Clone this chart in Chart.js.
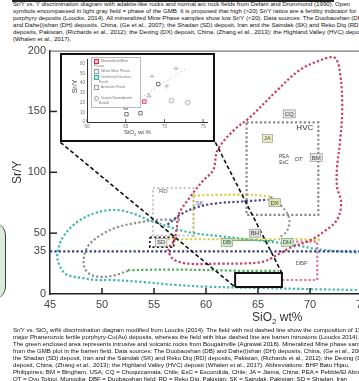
<!DOCTYPE html>
<html>
<head>
<meta charset="utf-8">
<script src="https://cdn.jsdelivr.net/npm/chart.js@4.4.1/dist/chart.umd.min.js"></script>
<style>
  html, body { margin:0; padding:0; background:#fff; width:359px; height:381px; overflow:hidden; position:relative;
               font-family:"Liberation Sans", Arial, sans-serif; }
  .cap { position:absolute; left:13px; white-space:nowrap; font-size:6.1px; line-height:7px; color:#111; }
  #main { position:absolute; left:0; top:40px; }
  #xTitle { position:absolute; left:252px; top:310px; font-size:12px; color:#333; white-space:nowrap; }
  #insetBox { position:absolute; left:60px; top:53px; width:151px; height:85px; border:2px solid #111; background:#fff; }
  #inset { position:absolute; left:0; top:0; }
  #insetY { position:absolute; left:6px; top:28px; font-size:7px; color:#444; transform:rotate(-90deg); transform-origin:center; }
  #insetX { position:absolute; left:62px; top:74px; font-size:6px; color:#444; white-space:nowrap; }
  #legend { position:absolute; left:29px; top:2px; width:44px; padding:1px 2px; border:1px solid #bbb; background:rgba(255,255,255,0.92);
            font-size:3.6px; line-height:5px; color:#777; }
  #legend span.m { display:inline-block; width:3px; height:3px; margin-right:2px; border:0.6px solid #999; vertical-align:middle; }
  #edge { position:absolute; left:-22px; top:222px; width:27px; height:78px; border-right:1.5px solid #2d4a36;
          border-radius:0 14px 14px 0; background:#dcebdc; }
  #topBar { position:absolute; left:12px; top:0; width:322px; height:1.5px; background:#222; }
</style>
</head>
<body>
<div id="edge"></div>
<div id="topBar"></div>
<div class="cap" style="top:0px">Sr/Y vs. Y discrimination diagram with adakite-like rocks and normal arc rock fields from Defant and Drummond (1990). Open</div>
<div class="cap" style="top:7px">symbols encompassed in light gray field = phase of the GMB. It is proposed that high (&gt;20) Sr/Y ratios are a fertility indicator for</div>
<div class="cap" style="top:14px">porphyry deposits (Loucks, 2014). All mineralized Mine Phase samples show low Sr/Y (&lt;20). Data sources: The Duobaoshan (DB)</div>
<div class="cap" style="top:21px">and Dahe(i)shan (DH) deposits, China, (Ge et al., 2007); the Shadan (SD) deposit, Iran and the Saindak (SK) and Reko Diq (RD)</div>
<div class="cap" style="top:28px">deposits, Pakistan, (Richards et al., 2012); the Dexing (DX) deposit, China, (Zhang et al., 2013); the Highland Valley (HVC) deposit</div>
<div class="cap" style="top:35px">(Whalen et al., 2017).</div>

<canvas id="main" width="420" height="272"></canvas>
<div id="xTitle">SiO<sub style="font-size:8px">2</sub> wt%</div>

<div id="insetBox">
  <canvas id="inset" width="151" height="85"></canvas>
  <div id="insetY">Sr/Y</div>
  <div id="insetX">SiO<sub style="font-size:4px">2</sub> wt.%</div>
  <div id="legend">
    <div><span class="m" style="border-color:#d03050;background:#f4c0c8"></span>Mineralized Mine Phase</div>
    <div><span class="m"></span>White Mine Phase</div>
    <div><span class="m" style="border-color:#30b0a0;background:#bfe8e0"></span>Unaltered Intrusive</div>
    <div><span class="m" style="border:none"></span>Fresh</div>
    <div><span class="m" style="border-radius:0"></span>Andesite Fresh</div>
    <div><span class="m" style="border:none"></span></div>
    <div><span class="m" style="border-radius:50%"></span>Diorite/Granodiorite</div>
    <div><span class="m" style="border:none"></span>Basalt</div>
  </div>
</div>

<div class="cap" style="top:326px">Sr/Y vs. SiO<sub style="font-size:4px">2</sub> wt% discrimination diagram modified from Loucks (2014). The field with red dashed line show the composition of 13</div>
<div class="cap" style="top:333px">major Phanerozoic fertile porphyry-Cu(Au) deposits, whereas the field with blue dashed line are barren intrusions (Loucks 2014).</div>
<div class="cap" style="top:340px">The green enclosed area represents intrusive and volcanic rocks from Bougainville (Agrawal 2018). Mineralized Mine phase samples</div>
<div class="cap" style="top:347px">from the GMB plot in the barren field. Data sources: The Duobaoshan (DB) and Dahe(i)shan (DH) deposits, China, (Ge et al., 2007</div>
<div class="cap" style="top:354px">the Shadan (SD) deposit, Iran and the Saindak (SK) and Reko Diq (RD) deposits, Pakistan, (Richards et al., 2012); the Dexing (D</div>
<div class="cap" style="top:361px">deposit, China, (Zhang et al., 2013); the Highland Valley (HVC) deposit (Whalen et al., 2017). Abbreviations: BHP Batu Hijau,</div>
<div class="cap" style="top:368px">Philippines; BM = Bingham, USA; CQ = Chuquicamata, Chile; EsC = Escondida, Chile; JA = Jiama, China; PEA = Pebble/El Abra</div>
<div class="cap" style="top:375px">OT = Oyu Tolgoi, Mongolia; DBF = Duobaoshan field; RD = Reko Diq, Pakistan; SK = Saindak, Pakistan; SD = Shadan, Iran</div>

<script>
// ---- axis ticks ----
const xTickValues = [45, 50, 55, 60, 65, 70, 75];
const yTickValues = [0, 35, 50, 100, 150, 200];
const xTickMarks = [50, 55, 60, 65, 70, 75];
const yTickMarks = [50, 100, 150];

// ---- field outlines, SiO2 wt% vs Sr/Y ----
const fertileField = [[57.0,44],[57.2,55],[57.4,66],[58.5,80],[59.7,93],[60.7,102],[61.1,118],[62.6,134],[64.2,145],
  [66.8,167],[69.0,184],[71.3,193],[72.4,194],[72.9,181],[73.1,153],[72.9,126],[72.6,104],[72.6,88],[73.0,75],
  [72.6,61],[71.3,51],[70.0,44],[68.1,38],[66.4,30],[65.5,26.5],[63.3,25],[61.6,25],[58.2,25],[56.8,29],[56.4,37],[57.0,44]];
const barrenLine = [[45,35],[80,35]];
const skArc = [[56.3,57],[57.5,65],[59,71],[61,74.5],[63.5,76],[66,77.5]];
const bougainvilleField = [[80,32.5],[74.8,34],[71,36.5],[68,41],[64.5,44.5],[61.3,47.5],[58.5,50.5],[56.5,55],
  [54.6,60.5],[53,66],[51.4,69],[49.5,67],[47.6,59],[46.2,46],[45.7,32],[46.0,22],[46.6,16],[48.2,13],[49.5,11.5],
  [51,11.5],[53.7,10],[57,7.5],[60,6],[65,5],[70,4],[80,2.5]];
const innerArcField = [[57.5,61],[55.5,61],[53.7,59],[51.5,55],[50.0,49],[48.8,41],[48.3,32],[48.3,22],[48.9,16],
  [50.0,14],[51.3,15.5],[52.5,19]];
const mineLine = [[52.5,19.5],[55,20],[58,20],[61,19.5],[63.5,19],[67,19]];
const hvcBox = [[63.9,141],[70.8,141],[70.8,65],[63.9,65],[63.9,141]];
const dxTop = [[58.8,81],[62,81.5],[64.5,81.5],[66.2,80]];
const dxSide = [[58.8,81],[58.8,46]];
const dxCurve = [[66.2,80],[67.4,71],[68,62],[67.8,52],[67,46]];
const dbLine = [[55.5,45],[58,45],[61.3,45],[64,45],[66.5,45],[69,45],[71,44.5]];
const dhLine = [[62,44],[66.5,44]];
const dbfBox = [[67.4,43],[70.7,43],[70.7,11.5],[67.4,11.5]];
const rdBox = [[54.9,87],[58.8,87],[58.8,48],[54.9,48],[54.9,87]];
const sdBox = [[54.6,46.5],[56.9,46.5],[56.9,38.5],[54.6,38.5],[54.6,46.5]];
const zoomBox = [[62.8,5.7],[67.3,5.7],[67.3,17.2],[62.8,17.2],[62.8,5.7]];
const zoomLeft = [[46.0,124.6],[62.8,5.7]];
const zoomRight = [[60.9,124.6],[67.3,17.2]];

// ---- deposit labels ----
const labelText = ['HVC','CQ','JA','PEA','EsC','OT','BM','SK','DX','RD','SD','DB','BH','DH','DBF'];
const labelX    = [69.5, 68.0, 65.9, 67.5, 67.5, 68.9, 70.6, 59.4, 66.6, 55.9, 55.7, 62.0, 64.7, 67.8, 69.2];
const labelY    = [137, 148, 128, 113, 108.5, 111, 112, 75, 75, 85, 42.5, 42.5, 50, 42.5, 26];
const labelLook = {
  HVC:{c:'#333', bg:null, s:8}, CQ:{c:'#444', bg:'#e6e6e6', s:6}, JA:{c:'#555', bg:'#eeeec0', s:6},
  PEA:{c:'#444', bg:null, s:5}, EsC:{c:'#444', bg:null, s:5}, OT:{c:'#444', bg:null, s:6},
  BM:{c:'#444', bg:'#e6e6e6', s:6}, SK:{c:'#6a4aa0', bg:null, s:6}, DX:{c:'#444', bg:'#e2e6b0', s:6},
  RD:{c:'#666', bg:null, s:6}, SD:{c:'#333', bg:'#eeeeee', s:6}, DB:{c:'#355', bg:'#cfe8c0', s:6},
  BH:{c:'#444', bg:'#dddddd', s:6}, DH:{c:'#355', bg:'#cfe8c0', s:6}, DBF:{c:'#555', bg:null, s:6}
};

// ---- inset samples ----
const insetSquares   = [[62.5,21],[65,15],[65.1,8],[66.9,9],[69.2,39]];
const insetRed       = [[67.4,21],[65.3,17]];
const insetTeal      = [[66.5,19]];
const insetTriangles = [[68,27]];
const insetCircles   = [[70.9,22],[73,20]];
const insetPlus      = [[68.4,47],[70.3,37],[71.5,55]];
const insetTrend     = [[66,20],[73,56]];
const insetXTicks = [60, 65, 70, 75];
const insetYTicks = [0, 10, 20, 30, 40, 50, 60];

const family = '"Liberation Sans", Arial, sans-serif';
const pts = a => a.map(([x, y]) => ({x, y}));
function path(data, color, opts = {}) {
  return Object.assign({
    data: pts(data), showLine: true, borderColor: color, backgroundColor: color,
    borderWidth: 2.2, borderDash: [2.2, 2.2], pointRadius: 0, tension: 0.35, fill: false
  }, opts);
}

const frameTicks = {
  id: 'frameTicks',
  afterDraw(chart) {
    const {ctx, chartArea: a, scales: {x, y}} = chart;
    ctx.save();
    ctx.strokeStyle = '#555'; ctx.lineWidth = 1;
    ctx.beginPath(); ctx.moveTo(a.left, a.top + 0.5); ctx.lineTo(a.right, a.top + 0.5); ctx.stroke();
    ctx.strokeStyle = '#222'; ctx.lineWidth = 1.5;
    xTickMarks.forEach(v => {
      const px = x.getPixelForValue(v);
      ctx.beginPath(); ctx.moveTo(px, a.bottom); ctx.lineTo(px, a.bottom - 6); ctx.stroke();
    });
    yTickMarks.forEach(v => {
      const py = y.getPixelForValue(v);
      ctx.beginPath(); ctx.moveTo(a.left, py); ctx.lineTo(a.left + 7, py); ctx.stroke();
    });
    ctx.restore();
  }
};

const fieldLabels = {
  id: 'fieldLabels',
  afterDatasetsDraw(chart) {
    const {ctx, scales: {x, y}} = chart;
    ctx.save();
    ctx.textAlign = 'center'; ctx.textBaseline = 'middle';
    labelText.forEach((t, i) => {
      const look = labelLook[t];
      const px = x.getPixelForValue(labelX[i]), py = y.getPixelForValue(labelY[i]);
      ctx.font = look.s + 'px ' + family;
      const w = ctx.measureText(t).width;
      if (look.bg) {
        ctx.fillStyle = look.bg; ctx.strokeStyle = '#888'; ctx.lineWidth = 0.6;
        ctx.fillRect(px - w / 2 - 1.5, py - look.s / 2 - 1, w + 3, look.s + 2);
        ctx.strokeRect(px - w / 2 - 1.5, py - look.s / 2 - 1, w + 3, look.s + 2);
      }
      ctx.fillStyle = look.c;
      ctx.fillText(t, px, py + 0.5);
    });
    ctx.restore();
  }
};

new Chart(document.getElementById('main'), {
  type: 'scatter',
  data: {
    datasets: [
      path(zoomBox, '#111', {borderDash: [], borderWidth: 2, tension: 0}),
      path(zoomLeft, '#111', {borderDash: [4, 2.5], borderWidth: 1.6, tension: 0}),
      path(zoomRight, '#111', {borderDash: [4, 2.5], borderWidth: 1.6, tension: 0}),
      path(fertileField, '#c83c5c'),
      path(barrenLine, '#3a3f7c', {tension: 0}),
      path(skArc, '#4a4690'),
      path(bougainvilleField, '#3fb8a6'),
      path(innerArcField, '#8e8e8e'),
      path(mineLine, '#4caf50', {tension: 0}),
      path(hvcBox, '#8a8a8a', {tension: 0}),
      path(dxTop, '#d8cf45', {tension: 0.3}),
      path(dxSide, '#c9c37a', {tension: 0}),
      path(dxCurve, '#9a9a9a'),
      path(dbLine, '#d9cf3c', {tension: 0}),
      path(dhLine, '#5fb060', {borderDash: [], borderWidth: 1, tension: 0}),
      path(dbfBox, '#e070a0', {tension: 0}),
      path(rdBox, '#b8b8b8', {borderWidth: 1.5, tension: 0}),
      path(sdBox, '#222', {borderWidth: 1.8, tension: 0})
    ]
  },
  options: {
    responsive: false, animation: false, devicePixelRatio: 1,
    layout: {padding: {top: 8, right: 6, left: 0, bottom: 0}},
    plugins: {legend: {display: false}, tooltip: {enabled: false}},
    scales: {
      x: {
        type: 'linear', min: 45, max: 80,
        afterBuildTicks: s => { s.ticks = xTickValues.map(v => ({value: v})); },
        afterFit: s => { s.height = 18; },
        grid: {display: true, drawOnChartArea: false, drawTicks: false},
        border: {display: true, color: '#222', width: 1.5},
        ticks: {padding: 4, color: '#444', font: {size: 11, family}}
      },
      y: {
        type: 'linear', min: 0, max: 200,
        afterBuildTicks: s => { s.ticks = yTickValues.map(v => ({value: v})); },
        afterFit: s => { s.width = 50; },
        grid: {display: true, drawOnChartArea: false, drawTicks: false},
        border: {display: true, color: '#222', width: 1.5},
        ticks: {padding: 4, color: '#444', font: {size: 11, family}},
        title: {display: true, text: 'Sr/Y', color: '#333', font: {size: 12, family}, padding: {top: 10, bottom: 0}}
      }
    }
  },
  plugins: [frameTicks, fieldLabels]
});

// ---- inset scatter ----
const insetTicks = {
  id: 'insetTicks',
  afterDraw(chart) {
    const {ctx, chartArea: a, scales: {x}} = chart;
    ctx.save(); ctx.strokeStyle = '#333'; ctx.lineWidth = 0.8;
    insetXTicks.forEach(v => {
      const px = x.getPixelForValue(v);
      ctx.beginPath(); ctx.moveTo(px, a.bottom); ctx.lineTo(px, a.bottom - 3); ctx.stroke();
    });
    ctx.restore();
  }
};
const sym = (data, style, color, fill, r) => ({
  data: pts(data), pointStyle: style, pointRadius: r, borderColor: color, backgroundColor: fill, borderWidth: 0.8
});

new Chart(document.getElementById('inset'), {
  type: 'scatter',
  data: {
    datasets: [
      sym(insetRed, 'rect', '#d03050', 'rgba(240,180,190,0.6)', 2.6),
      sym(insetTeal, 'triangle', '#30b0a0', 'rgba(180,230,220,0.6)', 2.6),
      sym(insetSquares, 'rect', '#555', '#fff', 2.4),
      sym(insetTriangles, 'triangle', '#999', '#fff', 2.4),
      sym(insetCircles, 'circle', '#aaa', '#f2f2f2', 2.4),
      sym(insetPlus, 'cross', '#aaa', '#aaa', 2.4),
      {data: pts(insetTrend), showLine: true, borderColor: '#d0d0d0', borderWidth: 1, borderDash: [2, 2], pointRadius: 0}
    ]
  },
  options: {
    responsive: false, animation: false, devicePixelRatio: 1,
    layout: {padding: {top: 3, right: 6, left: 0, bottom: 0}},
    plugins: {legend: {display: false}, tooltip: {enabled: false}},
    scales: {
      x: {
        type: 'linear', min: 60, max: 75.5,
        afterBuildTicks: s => { s.ticks = insetXTicks.map(v => ({value: v})); },
        afterFit: s => { s.height = 18; },
        grid: {display: true, drawOnChartArea: false, drawTicks: false},
        border: {display: true, color: '#333', width: 1},
        ticks: {padding: 2, color: '#777', font: {size: 4.5, family}}
      },
      y: {
        type: 'linear', min: 0, max: 64,
        afterBuildTicks: s => { s.ticks = insetYTicks.map(v => ({value: v})); },
        afterFit: s => { s.width = 25; },
        grid: {display: true, drawOnChartArea: false, drawTicks: false},
        border: {display: true, color: '#333', width: 1},
        ticks: {padding: 2, color: '#777', font: {size: 4.5, family}}
      }
    }
  },
  plugins: [insetTicks]
});
</script>
</body>
</html>
